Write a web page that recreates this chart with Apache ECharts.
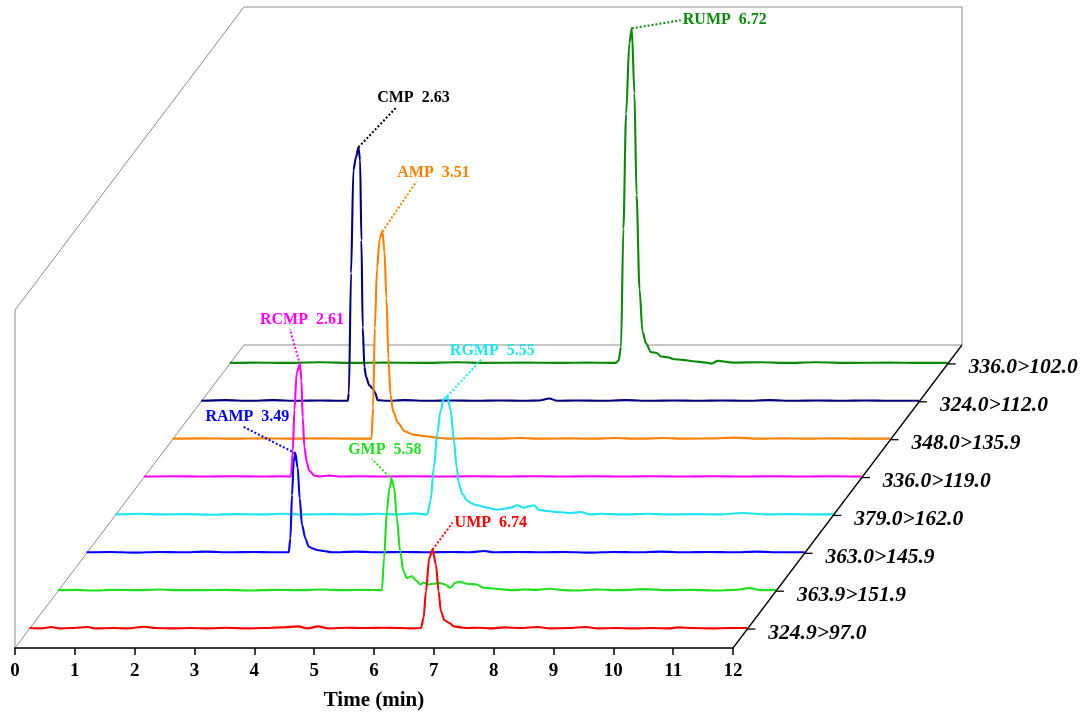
<!DOCTYPE html>
<html>
<head>
<meta charset="utf-8">
<script src="https://cdn.jsdelivr.net/npm/echarts@6/dist/echarts.min.js"></script>
<style>
  html, body { margin: 0; padding: 0; background: #fff; }
  #chart { width: 1083px; height: 715px; }
</style>
</head>
<body>
<div id="chart"></div>
<script>
// ---- data: MRM transitions, front (bottom) to back (top) ----
const transitions = ['324.9>97.0', '363.9>151.9', '363.0>145.9', '379.0>162.0',
                     '336.0>119.0', '348.0>135.9', '324.0>112.0', '336.0>102.0'];
const compounds = ['UMP', 'GMP', 'RAMP', 'RGMP', 'RCMP', 'AMP', 'CMP', 'RUMP'];
const retentionTimes = [6.74, 5.58, 3.49, 5.55, 2.61, 3.51, 2.63, 6.72];
const timeTicks = [0, 1, 2, 3, 4, 5, 6, 7, 8, 9, 10, 11, 12];

// intensity (relative, 0-100) vs time (min)
const traceUMP = [[0,0.3],[0.2,0.2],[0.37,0.6],[0.5,0.2],[0.7,0.3],[0.97,0.6],[1.1,0.2],[1.4,0.3],[1.65,0.2],[1.92,0.7],[2.1,0.3],[2.4,0.2],[2.7,0.3],[3.0,0.2],[3.3,0.4],[3.6,0.2],[3.9,0.3],[4.2,0.5],[4.49,0.8],[4.65,0.2],[4.82,0.8],[5.0,0.2],[5.3,0.4],[5.6,0.3],[5.9,0.4],[6.2,0.3],[6.4,0.2],[6.545,0.3],[6.59,3.3],[6.629,11.2],[6.684,21.0],[6.74,23.5],[6.796,19.1],[6.84,11.2],[6.88,5.2],[6.935,2.7],[7.02,1.8],[7.1,0.8],[7.213,0.5],[7.32,0.3],[7.5,0.4],[7.7,0.2],[7.95,0.5],[8.2,0.3],[8.5,0.6],[8.7,0.2],[9.0,0.3],[9.3,0.6],[9.5,0.2],[9.8,0.3],[10.1,0.2],[10.4,0.3],[10.7,0.2],[10.85,0.5],[11.1,0.3],[11.4,0.2],[11.7,0.3],[12,0.3]];
const traceGMP = [[0,0.3],[0.3,0.4],[0.6,0.2],[0.9,0.4],[1.3,0.3],[1.7,0.5],[2.0,0.3],[2.4,0.3],[2.8,0.4],[3.2,0.2],[3.6,0.4],[4.0,0.3],[4.4,0.5],[4.8,0.3],[5.1,0.4],[5.413,0.3],[5.452,9.9],[5.496,23.6],[5.541,30.5],[5.58,33.0],[5.619,30.5],[5.664,21.7],[5.719,11.8],[5.775,5.9],[5.831,3.9],[5.914,4.4],[5.998,3.0],[6.053,2.0],[6.109,2.5],[6.193,2.0],[6.276,2.2],[6.388,2.4],[6.47,2.0],[6.555,1.0],[6.64,2.5],[6.722,2.8],[6.833,2.2],[7.0,2.0],[7.11,1.0],[7.28,0.8],[7.446,0.5],[7.613,0.3],[7.78,0.5],[8.0,0.4],[8.226,0.7],[8.45,0.3],[8.67,0.2],[9.0,0.5],[9.4,0.3],[9.8,0.6],[10.2,0.3],[10.6,0.4],[11.0,0.2],[11.3,0.4],[11.56,0.9],[11.75,0.3],[12,0.4]];
const traceRAMP = [[0,0.3],[0.4,0.4],[0.8,0.2],[1.2,0.4],[1.6,0.3],[2.0,0.5],[2.4,0.3],[2.8,0.4],[3.1,0.3],[3.379,0.3],[3.406,4.4],[3.434,17.3],[3.462,27.1],[3.49,29.6],[3.529,25.2],[3.562,16.3],[3.601,8.4],[3.657,4.4],[3.713,2.0],[3.768,1.5],[3.852,1.0],[3.963,0.7],[4.1,0.3],[4.5,0.5],[4.9,0.3],[5.3,0.4],[5.7,0.3],[6.1,0.4],[6.4,0.3],[6.65,0.7],[6.8,0.3],[7.2,0.4],[7.6,0.3],[8.0,0.4],[8.4,0.2],[8.8,0.4],[9.2,0.3],[9.6,0.5],[10.0,0.3],[10.4,0.4],[10.8,0.3],[11.2,0.5],[11.6,0.3],[12,0.3]];
const traceRGMP = [[0,0.3],[0.4,0.5],[0.8,0.3],[1.2,0.4],[1.6,0.2],[2.0,0.4],[2.4,0.3],[2.8,0.5],[3.2,0.3],[3.6,0.4],[4.0,0.3],[4.4,0.5],[4.7,0.3],[5.0,0.6],[5.216,0.3],[5.27,4.4],[5.327,14.3],[5.383,24.2],[5.44,31.1],[5.494,34.5],[5.55,35.2],[5.606,31.1],[5.661,22.2],[5.706,14.3],[5.745,9.4],[5.8,6.4],[5.884,4.4],[5.968,3.5],[6.05,3.0],[6.22,2.3],[6.386,1.7],[6.5,2.0],[6.61,2.3],[6.72,3.0],[6.83,2.3],[6.915,2.7],[7.0,3.0],[7.08,1.7],[7.22,1.3],[7.39,1.0],[7.61,0.7],[7.78,1.0],[7.94,0.3],[8.11,0.5],[8.5,0.3],[8.9,0.5],[9.3,0.3],[9.7,0.4],[10.1,0.3],[10.48,0.7],[10.9,0.3],[11.3,0.4],[11.7,0.3],[12,0.4]];
const traceRCMP = [[0,0.3],[0.5,0.4],[1.0,0.3],[1.5,0.4],[2.0,0.3],[2.3,0.4],[2.46,0.3],[2.49,8.0],[2.517,20.0],[2.555,31.0],[2.61,33.5],[2.634,28.8],[2.656,17.8],[2.684,9.0],[2.723,4.5],[2.767,2.0],[2.85,0.6],[2.935,0.3],[3.1,0.6],[3.3,0.3],[3.6,0.4],[4.0,0.3],[4.5,0.4],[5.0,0.3],[5.5,0.4],[6.0,0.3],[6.5,0.4],[7.0,0.3],[7.5,0.4],[8.0,0.3],[8.5,0.4],[9.0,0.3],[9.5,0.4],[10.0,0.3],[10.5,0.4],[11.0,0.3],[11.5,0.4],[12,0.3]];
const traceAMP = [[0,0.3],[0.5,0.4],[1.0,0.3],[1.5,0.4],[2.0,0.3],[2.5,0.4],[3.0,0.3],[3.326,0.3],[3.354,9.4],[3.382,33.0],[3.42,50.8],[3.465,59.6],[3.51,61.6],[3.543,55.7],[3.577,41.9],[3.61,24.1],[3.644,13.3],[3.688,8.4],[3.772,4.9],[3.883,2.5],[4.02,1.5],[4.245,1.0],[4.47,0.5],[4.58,0.3],[5.0,0.4],[5.4,0.3],[5.8,0.5],[6.2,0.3],[6.6,0.4],[7.0,0.3],[7.4,0.5],[7.8,0.3],[8.2,0.5],[8.6,0.3],[9.0,0.4],[9.4,0.6],[9.8,0.3],[10.2,0.4],[10.6,0.3],[11.0,0.4],[11.5,0.3],[12,0.3]];
const traceCMP = [[0,0.3],[0.4,0.5],[0.8,0.3],[1.2,0.5],[1.6,0.3],[2.0,0.4],[2.3,0.3],[2.452,0.3],[2.47,2.5],[2.507,38.0],[2.546,68.5],[2.59,72.4],[2.63,75.3],[2.658,71.5],[2.68,47.8],[2.702,22.0],[2.73,10.3],[2.758,7.4],[2.81,4.9],[2.87,3.9],[2.914,2.5],[2.95,0.5],[3.1,0.3],[3.4,0.5],[3.8,0.3],[4.2,0.4],[4.6,0.3],[5.0,0.4],[5.4,0.3],[5.65,0.4],[5.82,1.0],[5.95,0.3],[6.3,0.4],[6.7,0.3],[7.1,0.5],[7.5,0.3],[7.9,0.4],[8.3,0.3],[8.7,0.4],[9.1,0.3],[9.5,0.5],[9.9,0.3],[10.3,0.4],[10.7,0.3],[11.1,0.4],[11.5,0.3],[12,0.3]];
const traceRUMP = [[0,0.3],[0.4,0.4],[0.9,0.3],[1.5,0.5],[2.1,0.3],[2.6,0.4],[3.2,0.3],[3.8,0.5],[4.3,0.3],[4.9,0.4],[5.5,0.3],[6.0,0.4],[6.45,0.3],[6.5,1.0],[6.54,5.0],[6.58,40.0],[6.625,74.0],[6.68,95.0],[6.72,99.3],[6.765,80.0],[6.8,50.0],[6.85,22.0],[6.9,9.5],[6.96,6.0],[7.04,3.5],[7.13,3.3],[7.21,2.2],[7.32,2.0],[7.43,1.4],[7.57,1.2],[7.74,0.8],[7.96,0.4],[8.05,0.1],[8.16,0.9],[8.41,0.4],[8.9,0.5],[9.3,0.3],[9.8,0.5],[10.4,0.3],[11.0,0.4],[11.5,0.3],[12,0.3]];

const traces = [traceUMP, traceGMP, traceRAMP, traceRGMP, traceRCMP, traceAMP, traceCMP, traceRUMP];

// ---- styling ----
const lineColors  = ['#ff0000', '#1fe01f', '#0000ff', '#1ee6f2', '#ff00ff', '#ff8000', '#000080', '#0a8a0a'];
const labelColors = ['#ff0000', '#1fe01f', '#0000ff', '#1ee6f2', '#ff00ff', '#ff8000', '#000000', '#0a8a0a'];
// peak annotation: leader offset from apex, and where the text sits
const peakLabelLayout = [
  { dx: 20,  dy: -27, place: 'right' },
  { dx: -20, dy: -21, place: 'above', shift: 13 },
  { dx: -53, dy: -27, place: 'above', shift: 5 },
  { dx: 34,  dy: -37, place: 'above', shift: 11 },
  { dx: -10, dy: -35, place: 'above', shift: 12 },
  { dx: 34,  dy: -50, place: 'above', shift: 17 },
  { dx: 38,  dy: -40, place: 'above', shift: 17 },
  { dx: 49,  dy: -8,  place: 'right' }
];

const SERIF = "'Times New Roman', 'Liberation Serif', serif";
// oblique frame: front floor edge, depth vector and wall height (px)
const FRAME = { left: 15, right: 733, floorY: 648, depthX: 229, depthY: 303, height: 338 };
const Y_MAX = 100;
const T_MIN = timeTicks[0], T_MAX = timeTicks[timeTicks.length - 1];
const depthOf = i => (i + 0.5) / traces.length;

const chart = echarts.init(document.getElementById('chart'), null, { renderer: 'canvas', width: 1083, height: 715 });

const grids = [], xAxes = [], yAxes = [], series = [];
traces.forEach((_, i) => {
  const f = depthOf(i);
  grids.push({
    left: FRAME.left + f * FRAME.depthX,
    top: FRAME.floorY - f * FRAME.depthY - FRAME.height,
    width: FRAME.right - FRAME.left,
    height: FRAME.height
  });
  xAxes.push({ gridIndex: i, type: 'value', min: T_MIN, max: T_MAX, show: false });
  yAxes.push({ gridIndex: i, type: 'value', min: 0, max: Y_MAX, show: false });
});

// back traces first so nearer ones hide them
for (let i = traces.length - 1; i >= 0; i--) {
  series.push({
    type: 'line',
    name: transitions[i],
    xAxisIndex: i,
    yAxisIndex: i,
    data: traces[i],
    showSymbol: false,
    smooth: 0.3,
    smoothMonotone: 'x',
    lineStyle: { color: lineColors[i], width: 2.1 },
    areaStyle: { color: '#ffffff', opacity: 1, origin: 'start' },
    silent: true,
    z: 2
  });
}

// front floor edge carrying the time axis
const axisGrid = traces.length;
grids.push({ left: FRAME.left, top: FRAME.floorY - FRAME.height, width: FRAME.right - FRAME.left, height: FRAME.height });
xAxes.push({
  gridIndex: axisGrid, type: 'value', min: T_MIN, max: T_MAX, interval: 1,
  name: 'Time (min)', nameLocation: 'middle', nameGap: 42,
  nameTextStyle: { fontFamily: SERIF, fontWeight: 'bold', fontSize: 21, color: '#000' },
  axisLine: { show: true, onZero: false, lineStyle: { color: '#000', width: 1.5 } },
  axisTick: { show: true, inside: false, length: 7, lineStyle: { color: '#000', width: 1.5 } },
  axisLabel: { fontFamily: SERIF, fontWeight: 'bold', fontSize: 19, color: '#000', margin: 14,
               formatter: v => String(v) },
  splitLine: { show: false }
});
yAxes.push({ gridIndex: axisGrid, type: 'value', min: 0, max: Y_MAX, show: false });
series.push({ type: 'line', xAxisIndex: axisGrid, yAxisIndex: axisGrid, data: [], silent: true });

chart.setOption({
  animation: false,
  backgroundColor: '#ffffff',
  grid: grids,
  xAxis: xAxes,
  yAxis: yAxes,
  series: series
});

// ---- frame, depth axis and peak annotations ----
const graphics = [];
const gray = { stroke: '#8c8c8c', lineWidth: 1, fill: null };
const F = FRAME;
const top0 = F.floorY - F.height;
// front-left upright and its receding top edge
graphics.push({ type: 'polyline', z: 0, shape: { points: [[F.left, F.floorY], [F.left, top0], [F.left + F.depthX, top0 - F.depthY]] }, style: gray });
// back wall
graphics.push({ type: 'polyline', z: 0, shape: { points: [
  [F.left + F.depthX, top0 - F.depthY], [F.right + F.depthX, top0 - F.depthY],
  [F.right + F.depthX, F.floorY - F.depthY], [F.left + F.depthX, F.floorY - F.depthY]] }, style: gray });
// left floor edge
graphics.push({ type: 'line', z: 0, shape: { x1: F.left, y1: F.floorY, x2: F.left + F.depthX, y2: F.floorY - F.depthY }, style: gray });
// right floor edge = transition axis
graphics.push({ type: 'line', z: 50, shape: { x1: F.right, y1: F.floorY, x2: F.right + F.depthX, y2: F.floorY - F.depthY },
  style: { stroke: '#000', lineWidth: 1.3 } });

traces.forEach((data, i) => {
  // transition tick + label at the end of each baseline
  const end = chart.convertToPixel({ gridIndex: i }, [T_MAX, 0]);
  graphics.push({ type: 'line', z: 50, shape: { x1: end[0], y1: end[1], x2: end[0] + 8, y2: end[1] },
    style: { stroke: '#000', lineWidth: 1.3 } });
  graphics.push({ type: 'text', z: 50, x: end[0] + 21, y: end[1] + 4,
    style: { text: transitions[i], font: `italic bold 21.5px ${SERIF}`, fill: '#000', align: 'left', verticalAlign: 'middle' } });

  // apex annotation with a dotted leader
  const apexVal = Math.max(...data.map(p => p[1]));
  const apex = chart.convertToPixel({ gridIndex: i }, [retentionTimes[i], apexVal]);
  const L = peakLabelLayout[i];
  const ex = apex[0] + L.dx, ey = apex[1] + L.dy;
  graphics.push({ type: 'line', z: 60, shape: { x1: apex[0], y1: apex[1], x2: ex, y2: ey },
    style: { stroke: labelColors[i], lineWidth: 2, lineDash: [2, 2] } });
  const text = `${compounds[i]}  ${retentionTimes[i].toFixed(2)}`;
  const font = `bold 16px ${SERIF}`;
  if (L.place === 'right') {
    graphics.push({ type: 'text', z: 60, x: ex + 2, y: ey,
      style: { text, font, fill: labelColors[i], align: 'left', verticalAlign: 'middle' } });
  } else {
    graphics.push({ type: 'text', z: 60, x: ex + L.shift, y: ey - 1,
      style: { text, font, fill: labelColors[i], align: 'center', verticalAlign: 'bottom' } });
  }
});

chart.setOption({ graphic: graphics });
</script>
</body>
</html>
